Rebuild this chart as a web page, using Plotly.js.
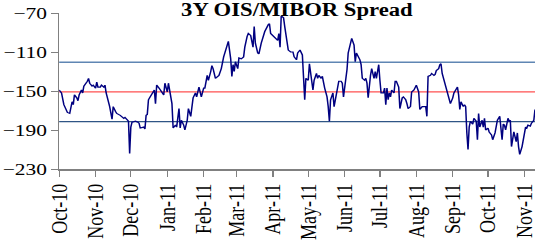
<!DOCTYPE html>
<html><head><meta charset="utf-8">
<script src="https://cdn.plot.ly/plotly-3.0.1.min.js"></script>
<style>
html,body{margin:0;padding:0;background:#fff;overflow:hidden;width:535px;height:242px}
#chart{width:425px;height:242px;transform:scaleX(1.2588);transform-origin:0 0}
</style>
</head><body><div id="chart"></div>
<script>
// day offsets from 2010-10-01 and spread values (bp)
const startDate = '2010-10-01';
const dayOffsets = [0,2,4,5,7,9,11,12,13,15,16,17,19,20,21,24,25,26,28,29,31,32,33,35,36,38,39,40,41,43,45,46,48,49,52,53,55,56,58,59,60,61,62,65,67,
68,69,72,73,74,75,76,77,79,81,82,83,85,86,87,89,90,92,93,95,96,97,99,100,102,103,104,106,107,109,110,112,113,114,116,117,119,120,121,123,124,126,127,129,130,131,133,
136,138,140,142,144,146,147,148,149,150,152,153,155,157,158,160,161,163,164,165,166,167,169,170,172,174,175,178,179,180,181,182,184,186,187,188,189,191,192,194,195,197,199,200,202,203,
205,207,208,209,210,212,213,215,216,217,219,220,221,223,224,226,227,228,229,230,231,233,234,236,237,238,240,241,242,244,245,246,248,249,251,252,253,254,256,257,258,260,261,262,263,265,266,268,269,270,272,
273,274,276,277,278,279,280,281,282,283,285,286,287,289,290,292,293,295,296,297,299,300,302,303,304,306,307,309,310,312,313,314,316,317,319,320,321,323,324,325,326,328,329,331,332,333,335,
336,338,339,340,341,342,344,345,346,347,348,349,350,352,353,355,356,357,358,360,361,362,363,365,366,368,369,371,372,373,375,376,377,378,379,380,382,383,384,385,386,387,389,390,391,392,394,395,396,397,398,399,401,402,404,405];
const spread = [-149,-152,-164,-167,-172,-173,-161,-164,-154,-157,-160,-154,-149,-152,-145,-140,-137,-142,-145,-144,-147,-141,-146,-146,-144,-146,-144,-152,-156,-166,-179,-166,-171,-173,-175,-176,-178,-177,-179,-181,-214,-187,-182,-181,-182,
-183,-188,-187,-189,-175,-174,-159,-157,-152,-149,-163,-144,-147,-149,-151,-154,-142,-151,-142,-159,-163,-188,-185,-187,-168,-188,-180,-185,-190,-180,-168,-176,-163,-157,-152,-156,-146,-151,-156,-147,-147,-134,-139,-130,-124,-127,-137,
-134,-127,-115,-105,-99,-117,-135,-123,-130,-120,-127,-116,-117,-115,-105,-94,-91,-93,-98,-105,-84,-101,-111,-112,-101,-94,-89,-82,-81,-91,-92,-94,-96,-98,-91,-105,-73,-75,-84,-99,-108,-110,-110,-115,-118,-111,
-108,-113,-149,-159,-137,-139,-122,-139,-149,-139,-132,-137,-134,-137,-135,-147,-152,-156,-166,-181,-159,-152,-166,-152,-146,-140,-140,-142,-156,-140,-128,-111,-99,-96,-103,-120,-111,-113,-118,-123,-137,-139,-137,-142,-157,-134,-127,-137,-130,-137,-123,
-139,-152,-152,-147,-164,-147,-159,-152,-156,-149,-152,-140,-140,-146,-168,-157,-156,-159,-163,-168,-166,-151,-149,-147,-144,-151,-169,-166,-166,-166,-176,-135,-134,-132,-134,-133,-129,-127,-123,-122,-132,-140,-146,-154,-159,-163,-157,
-152,-148,-146,-154,-169,-161,-166,-164,-166,-193,-210,-187,-181,-184,-178,-181,-200,-173,-187,-180,-187,-178,-190,-188,-192,-195,-200,-193,-187,-180,-176,-188,-200,-184,-185,-190,-178,-181,-180,-207,-200,-192,-202,-193,-207,-215,-207,-200,-192,-187,-188,-185,-186,-183,-180,-169];
// reference levels: mean + 1 sd, mean, mean - 1 sd
const levelValues = [-120.5, -151, -181.5];
const levelColors = ['#5F86B3', '#FF5050', '#2F5585'];
const tickDates = ['2010-10-01','2010-11-01','2010-12-01','2011-01-01','2011-02-01','2011-03-01','2011-04-01','2011-05-01','2011-06-01','2011-07-01','2011-08-01','2011-09-01','2011-10-01','2011-11-01'];
const tickLabels = ['Oct-10','Nov-10','Dec-10','Jan-11','Feb-11','Mar-11','Apr-11','May-11','Jun-11','Jul-11','Aug-11','Sep-11','Oct-11','Nov-11'];
const yTicks = [-230,-190,-150,-110,-70];
const xRange = ['2010-10-01','2011-11-10'];

const t0 = Date.parse(startDate + 'T00:00:00Z');
const dates = dayOffsets.map(d => new Date(t0 + d*86400000).toISOString().slice(0,10));

const font = 'Liberation Serif, Times New Roman, serif';
const shapes = levelValues.map((v,i) => ({type:'line', xref:'paper', x0:0, x1:1, yref:'y', y0:v, y1:v,
  line:{color:levelColors[i], width:1.3}, layer:'below'}));

Plotly.newPlot('chart', [{
  x: dates, y: spread, type:'scatter', mode:'lines',
  line:{color:'#000080', width:1.2}, hoverinfo:'skip'
}], {
  width:425, height:242,
  margin:{l:47, r:0, t:13, b:73},
  paper_bgcolor:'#fff', plot_bgcolor:'#fff',
  showlegend:false,
  title:{text:'<b>3Y OIS/MIBOR Spread</b>', font:{family:font, size:18, color:'#000'},
    x:0.555, xanchor:'center', xref:'container', y:0.934, yref:'container', yanchor:'bottom'},
  xaxis:{type:'date', range:xRange, tickmode:'array', tickvals:tickDates, ticktext:tickLabels,
    tickangle:-90, ticks:'outside', ticklen:6, tickcolor:'#808080', tickwidth:1,
    showline:true, linecolor:'#808080', linewidth:1.5, showgrid:false, zeroline:false,
    ticklabeloverflow:'allow', automargin:false,
    tickfont:{family:font, size:18, color:'#000'}},
  yaxis:{range:[-230,-70], tickmode:'array', tickvals:yTicks, ticks:'outside', ticklen:5,
    tickcolor:'#808080', tickwidth:1, showline:true, linecolor:'#808080', linewidth:1.3,
    showgrid:false, zeroline:false, automargin:false, tickfont:{family:font, size:17, color:'#000'}},
  shapes: shapes
}, {staticPlot:true, displayModeBar:false});
</script></body></html>
